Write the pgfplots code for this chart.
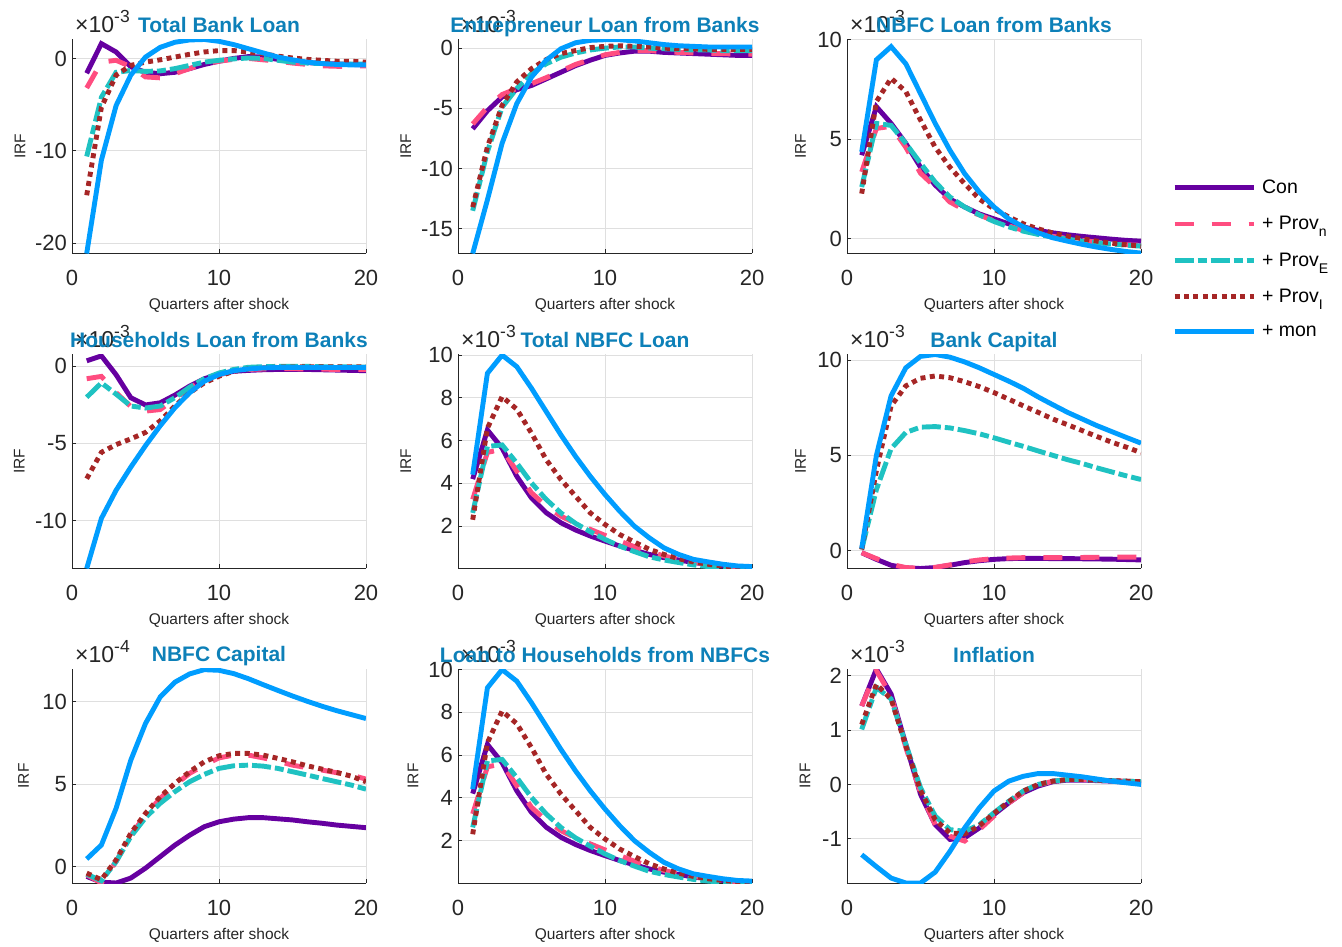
\documentclass[border=0pt]{standalone}
\usepackage{pgfplots}
\pgfplotsset{compat=1.18}
\usepackage{pgfplotstable}
\usepackage{fontspec}
\setmainfont{Liberation Sans}

\definecolor{ccon}{RGB}{102,0,160}
\definecolor{cprovn}{RGB}{255,77,128}
\definecolor{cprove}{RGB}{31,194,194}
\definecolor{cprovi}{RGB}{166,38,38}
\definecolor{cmon}{RGB}{0,157,255}
\definecolor{ctitle}{RGB}{13,128,184}
\definecolor{caxis}{RGB}{38,38,38}
\definecolor{cgrid}{RGB}{223,223,223}

\newcommand{\fs}[1]{\fontsize{#1}{#1}\selectfont}
\newcommand{\expo}[1]{\node[anchor=base west, font=\fs{23}, text=caxis, inner sep=0pt, xshift=3pt, yshift=6.5pt] at (axis description cs:0,1) {×10\raisebox{10.5pt}{\fs{17.5}-#1}};}
\newcommand{\sub}[1]{\raisebox{-7pt}[0pt][0pt]{\fs{14}#1}}

% Total Bank Loan (x 1e-3)
\pgfplotstableread{
x con pn pe pi mon
1 -1.6 -3.2 -10.6 -14.8 -21.1
2 1.6 -0.4 -4.2 -5.3 -11.0
3 0.7 -0.2 -1.5 -1.8 -5.1
4 -0.9 -0.9 -1.3 -0.75 -1.8
5 -1.5 -2.0 -1.4 -0.4 0.15
6 -1.65 -2.1 -1.35 -0.15 1.2
7 -1.5 -1.65 -1.1 0.15 1.75
8 -1.1 -1.1 -0.75 0.45 2.0
9 -0.65 -0.6 -0.4 0.7 2.05
10 -0.3 -0.3 -0.2 0.85 1.85
11 0.0 -0.1 -0.05 0.85 1.5
12 0.2 0.0 0.05 0.7 1.05
13 0.15 -0.15 0.0 0.5 0.6
14 -0.1 -0.3 -0.2 0.25 0.15
15 -0.3 -0.5 -0.4 0.05 -0.15
16 -0.45 -0.65 -0.5 -0.1 -0.4
17 -0.55 -0.8 -0.55 -0.2 -0.55
18 -0.6 -0.85 -0.6 -0.3 -0.65
19 -0.65 -0.85 -0.6 -0.3 -0.7
20 -0.7 -0.8 -0.6 -0.4 -0.7
}\tA
% Entrepreneur Loan from Banks
\pgfplotstableread{
x con pn pe pi mon
1 -6.7 -6.3 -13.5 -13.2 -17.05
2 -5.2 -4.9 -8.6 -8.2 -12.6
3 -4.05 -3.85 -4.9 -4.75 -7.9
4 -3.45 -3.35 -3.35 -2.8 -4.6
5 -3.1 -2.95 -2.1 -1.7 -2.4
6 -2.55 -2.45 -1.3 -0.95 -1.0
7 -2.0 -1.9 -0.75 -0.45 -0.05
8 -1.45 -1.35 -0.4 -0.2 0.45
9 -1.0 -0.95 -0.15 0.05 0.65
10 -0.6 -0.55 0.0 0.15 0.7
11 -0.4 -0.35 0.1 0.2 0.7
12 -0.25 -0.2 0.1 0.15 0.6
13 -0.25 -0.2 0.0 0.1 0.45
14 -0.35 -0.3 -0.05 0.0 0.3
15 -0.4 -0.35 -0.1 -0.05 0.2
16 -0.45 -0.4 -0.15 -0.05 0.15
17 -0.5 -0.45 -0.15 -0.1 0.1
18 -0.55 -0.45 -0.2 -0.1 0.1
19 -0.6 -0.5 -0.2 -0.1 0.1
20 -0.6 -0.5 -0.2 -0.1 0.1
}\tB
% NBFC Loan from Banks
\pgfplotstableread{
x con pn pe pi mon
1 4.2 3.36 2.6 2.27 4.37
2 6.64 5.55 5.8 6.9 9.0
3 5.8 5.65 5.7 8.07 9.66
4 4.8 4.6 4.8 7.4 8.8
5 3.6 3.3 3.8 5.97 7.3
6 2.7 2.6 2.85 4.6 5.8
7 2.0 1.85 2.1 3.6 4.45
8 1.6 1.45 1.6 2.77 3.28
9 1.25 1.2 1.2 2.0 2.35
10 1.0 0.9 0.87 1.5 1.6
11 0.75 0.65 0.6 1.1 1.0
12 0.6 0.42 0.38 0.75 0.6
13 0.42 0.25 0.22 0.5 0.3
14 0.3 0.12 0.08 0.29 0.05
15 0.2 0.02 -0.02 0.13 -0.12
16 0.12 -0.08 -0.12 0.0 -0.28
17 0.05 -0.17 -0.2 -0.12 -0.42
18 -0.02 -0.25 -0.27 -0.22 -0.54
19 -0.08 -0.3 -0.32 -0.3 -0.64
20 -0.12 -0.33 -0.37 -0.37 -0.72
}\tC
% Households Loan from Banks
\pgfplotstableread{
x con pn pe pi mon
1 0.36 -0.8 -2.0 -7.28 -13.1
2 0.68 -0.65 -1.07 -5.57 -9.85
3 -0.54 -1.7 -1.8 -5.07 -8.03
4 -2.03 -2.6 -2.57 -4.7 -6.53
5 -2.5 -2.9 -2.7 -4.28 -5.14
6 -2.36 -2.8 -2.57 -3.53 -3.85
7 -1.86 -2.1 -2.03 -2.57 -2.68
8 -1.28 -1.4 -1.35 -1.71 -1.71
9 -0.8 -0.85 -0.8 -1.07 -0.96
10 -0.5 -0.55 -0.43 -0.64 -0.53
11 -0.32 -0.32 -0.2 -0.32 -0.28
12 -0.26 -0.2 -0.06 -0.17 -0.17
13 -0.22 -0.17 -0.02 -0.1 -0.1
14 -0.2 -0.15 0.0 -0.05 -0.07
15 -0.2 -0.15 0.0 -0.04 -0.07
16 -0.2 -0.17 0.0 -0.03 -0.07
17 -0.22 -0.18 -0.02 -0.03 -0.07
18 -0.24 -0.2 -0.03 -0.03 -0.07
19 -0.26 -0.2 -0.04 -0.03 -0.07
20 -0.28 -0.2 -0.05 -0.03 -0.07
}\tD
% Total NBFC Loan
\pgfplotstableread{
x con pn pe pi mon
1 4.2 3.25 2.62 2.3 4.41
2 6.5 5.45 5.73 6.58 9.15
3 5.65 5.6 5.8 8.06 10.0
4 4.33 4.57 4.95 7.47 9.46
5 3.32 3.56 4.02 6.35 8.45
6 2.63 2.94 3.25 5.11 7.36
7 2.16 2.47 2.62 4.18 6.27
8 1.82 2.13 2.13 3.4 5.26
9 1.54 1.85 1.74 2.62 4.33
10 1.3 1.57 1.38 2.08 3.48
11 1.07 1.3 1.07 1.61 2.7
12 0.87 1.04 0.81 1.26 2.0
13 0.68 0.81 0.57 0.92 1.46
14 0.53 0.61 0.42 0.68 0.99
15 0.42 0.45 0.3 0.48 0.68
16 0.3 0.33 0.19 0.33 0.45
17 0.22 0.22 0.11 0.22 0.33
18 0.14 0.14 0.06 0.14 0.22
19 0.09 0.08 0.02 0.08 0.14
20 0.03 0.03 0.0 0.03 0.11
}\tE
% Bank Capital
\pgfplotstableread{
x con pn pe pi mon
1 -0.12 -0.12 0.05 0.05 0.1
2 -0.47 -0.43 3.2 4.2 5.0
3 -0.78 -0.73 5.35 7.6 8.13
4 -0.92 -0.9 6.2 8.65 9.6
5 -0.95 -0.94 6.48 9.05 10.2
6 -0.9 -0.89 6.51 9.17 10.3
7 -0.78 -0.76 6.44 9.08 10.16
8 -0.64 -0.6 6.3 8.87 9.91
9 -0.54 -0.5 6.13 8.61 9.6
10 -0.47 -0.43 5.92 8.3 9.25
11 -0.43 -0.4 5.69 7.95 8.9
12 -0.42 -0.38 5.47 7.6 8.52
13 -0.42 -0.38 5.23 7.26 8.07
14 -0.43 -0.38 5.0 6.91 7.66
15 -0.43 -0.37 4.77 6.61 7.26
16 -0.44 -0.37 4.57 6.3 6.91
17 -0.45 -0.36 4.34 5.99 6.56
18 -0.46 -0.36 4.13 5.69 6.25
19 -0.48 -0.35 3.92 5.43 5.94
20 -0.5 -0.35 3.73 5.14 5.64
}\tF
% NBFC Capital (x 1e-4)
\pgfplotstableread{
x con pn pe pi mon
1 -0.6 -0.5 -0.46 -0.4 0.46
2 -0.95 -1.0 -0.87 -0.8 1.31
3 -1.0 0.3 0.3 0.4 3.54
4 -0.7 1.9 1.82 2.02 6.46
5 -0.1 3.13 2.97 3.23 8.69
6 0.6 4.14 3.84 4.24 10.3
7 1.3 4.95 4.55 5.05 11.2
8 1.9 5.66 5.15 5.76 11.7
9 2.42 6.16 5.6 6.36 11.96
10 2.72 6.6 5.96 6.73 11.92
11 2.88 6.77 6.12 6.87 11.72
12 2.97 6.77 6.16 6.87 11.41
13 2.97 6.6 6.1 6.77 11.05
14 2.9 6.4 5.96 6.57 10.7
15 2.83 6.16 5.76 6.36 10.36
16 2.72 6.0 5.56 6.12 10.04
17 2.63 5.86 5.35 5.92 9.74
18 2.52 5.7 5.15 5.72 9.47
19 2.44 5.56 4.95 5.49 9.23
20 2.36 5.31 4.7 5.15 8.99
}\tG
% Loan to Households from NBFCs
\pgfplotstableread{
x con pn pe pi mon
1 4.2 3.25 2.62 2.3 4.41
2 6.5 5.45 5.73 6.58 9.15
3 5.65 5.6 5.8 8.06 10.0
4 4.33 4.57 4.95 7.47 9.46
5 3.32 3.56 4.02 6.35 8.45
6 2.63 2.94 3.25 5.11 7.36
7 2.16 2.47 2.62 4.18 6.27
8 1.82 2.13 2.13 3.4 5.26
9 1.54 1.85 1.74 2.62 4.33
10 1.3 1.57 1.38 2.08 3.48
11 1.07 1.3 1.07 1.61 2.7
12 0.87 1.04 0.81 1.26 2.0
13 0.68 0.81 0.57 0.92 1.46
14 0.53 0.61 0.42 0.68 0.99
15 0.42 0.45 0.3 0.48 0.68
16 0.3 0.33 0.19 0.33 0.45
17 0.22 0.22 0.11 0.22 0.33
18 0.14 0.14 0.06 0.14 0.22
19 0.09 0.08 0.02 0.08 0.14
20 0.03 0.03 0.0 0.03 0.11
}\tH
% Inflation
\pgfplotstableread{
x con pn pe pi mon
1 1.44 1.44 1.01 1.1 -1.29
2 2.12 2.09 1.78 1.84 -1.51
3 1.66 1.63 1.57 1.57 -1.72
4 0.74 0.68 0.74 0.71 -1.81
5 -0.18 -0.15 -0.06 -0.11 -1.81
6 -0.74 -0.74 -0.58 -0.65 -1.61
7 -1.01 -0.95 -0.83 -0.89 -1.23
8 -0.98 -1.04 -0.86 -0.91 -0.8
9 -0.8 -0.83 -0.74 -0.76 -0.43
10 -0.55 -0.58 -0.52 -0.53 -0.12
11 -0.34 -0.34 -0.31 -0.32 0.06
12 -0.15 -0.15 -0.12 -0.12 0.15
13 -0.03 -0.01 0.0 0.0 0.2
14 0.05 0.06 0.06 0.06 0.2
15 0.08 0.09 0.09 0.09 0.17
16 0.08 0.09 0.09 0.09 0.14
17 0.07 0.08 0.08 0.08 0.1
18 0.06 0.07 0.07 0.07 0.06
19 0.04 0.06 0.06 0.06 0.03
20 0.03 0.05 0.05 0.05 0.0
}\tI

\pgfplotsset{
  con/.style={color=ccon, solid},
  provn/.style={color=cprovn, dash pattern=on 19pt off 18pt},
  prove/.style={color=cprove, dash pattern=on 19pt off 4pt on 9pt off 4pt},
  provi/.style={color=cprovi, dash pattern=on 5pt off 4.4pt},
  mon/.style={color=cmon, solid},
  irf/.style={
    scale only axis, width=294pt, height=214pt, anchor=south west,
    xmin=0, xmax=20, xtick={0,10,20},
    axis lines*=left,
    axis line style={caxis, line width=0.9pt},
    every tick/.style={caxis, line width=0.9pt},
    tick align=inside, major tick length=4pt,
    grid=major, major grid style={cgrid, line width=0.9pt},
    ticklabel style={font=\fs{22}, text=caxis},
    /pgf/number format/assume math mode=true,
    scaled ticks=false,
    xticklabel style={anchor=base, yshift=-32pt},
    yticklabel style={anchor=east, inner xsep=0pt, xshift=-5pt},
    every axis title shift=0pt,
    title style={at={(0.5,1)}, anchor=base, yshift=7pt, font=\bfseries\fs{21}, text=ctitle},
    xlabel={Quarters after shock},
    every axis x label/.style={at={(axis description cs:0.5,0)}, anchor=base, yshift=-56.5pt, font=\fs{15.5}, text=caxis},
    ylabel={IRF},
    clip mode=individual,
    no markers,
    every axis plot/.append style={line width=4.9pt, line cap=butt, line join=miter},
  },
  ylab/.style={every axis y label/.style={at={(axis description cs:#1,0.5)}, rotate=90, anchor=center, font=\fs{15.5}, text=caxis}},
}

\newcommand{\five}[1]{%
  \addplot[con] table[x=x,y=con]{#1};
  \addplot[provn] table[x=x,y=pn]{#1};
  \addplot[prove] table[x=x,y=pe]{#1};
  \addplot[provi] table[x=x,y=pi]{#1};
  \addplot[mon] table[x=x,y=mon]{#1};
}

\begin{document}
\begin{tikzpicture}
\useasboundingbox (0,0) rectangle (1342pt,946pt);

% Row 1
\begin{axis}[irf, at={(72pt,692.5pt)}, ylab=-0.177, ymin=-21.1, ymax=2.05, ytick={-20,-10,0}, title={Total Bank Loan}]
\five{\tA}
\expo{3}
\end{axis}

\begin{axis}[irf, at={(458pt,692.5pt)}, ylab=-0.178, ymin=-17.05, ymax=0.72, ytick={-15,-10,-5,0}, title={Entrepreneur Loan from Banks}]
\five{\tB}
\expo{3}
\end{axis}

\begin{axis}[irf, at={(847pt,692.5pt)}, ylab=-0.158, ymin=-0.74, ymax=10.02, ytick={0,5,10}, title={NBFC Loan from Banks},
  legend style={at={(axis description cs:1.1054,0.344)}, anchor=north west, draw=none, fill=none, font=\fs{19.5}, text=black, inner sep=0pt, row sep=21.3pt, column sep=6pt, nodes={inner sep=0pt}},
  legend cell align=left,
  legend image code/.code={\draw[#1, line width=4.9pt, line cap=butt] (0pt,0pt) -- (79pt,0pt);}]
\five{\tC}
\expo{3}
\legend{Con, + Prov\sub{n}, + Prov\sub{E}, + Prov\sub{I}, + mon}
\end{axis}

% Row 2
\begin{axis}[irf, at={(72pt,377.5pt)}, ylab=-0.179, ymin=-13.1, ymax=0.77, ytick={-10,-5,0}, title={Households Loan from Banks}]
\five{\tD}
\expo{3}
\end{axis}

\begin{axis}[irf, at={(458pt,377.5pt)}, ylab=-0.178, ymin=0.02, ymax=10.03, ytick={2,4,6,8,10}, title={Total NBFC Loan}]
\five{\tE}
\expo{3}
\end{axis}

\begin{axis}[irf, at={(847pt,377.5pt)}, ylab=-0.158, ymin=-0.95, ymax=10.3, ytick={0,5,10}, title={Bank Capital}]
\five{\tF}
\expo{3}
\end{axis}

% Row 3
\begin{axis}[irf, at={(72pt,63pt)}, ylab=-0.165, ymin=-1.0, ymax=12.0, ytick={0,5,10}, title={NBFC Capital}]
\five{\tG}
\expo{4}
\end{axis}

\begin{axis}[irf, at={(458pt,63pt)}, ylab=-0.153, ymin=0.02, ymax=10.03, ytick={2,4,6,8,10}, title={Loan to Households from NBFCs}]
\five{\tH}
\expo{3}
\end{axis}

\begin{axis}[irf, at={(847pt,63pt)}, ylab=-0.143, ymin=-1.81, ymax=2.12, ytick={-1,0,1,2}, title={Inflation}]
\five{\tI}
\expo{3}
\end{axis}
\end{tikzpicture}
\end{document}
